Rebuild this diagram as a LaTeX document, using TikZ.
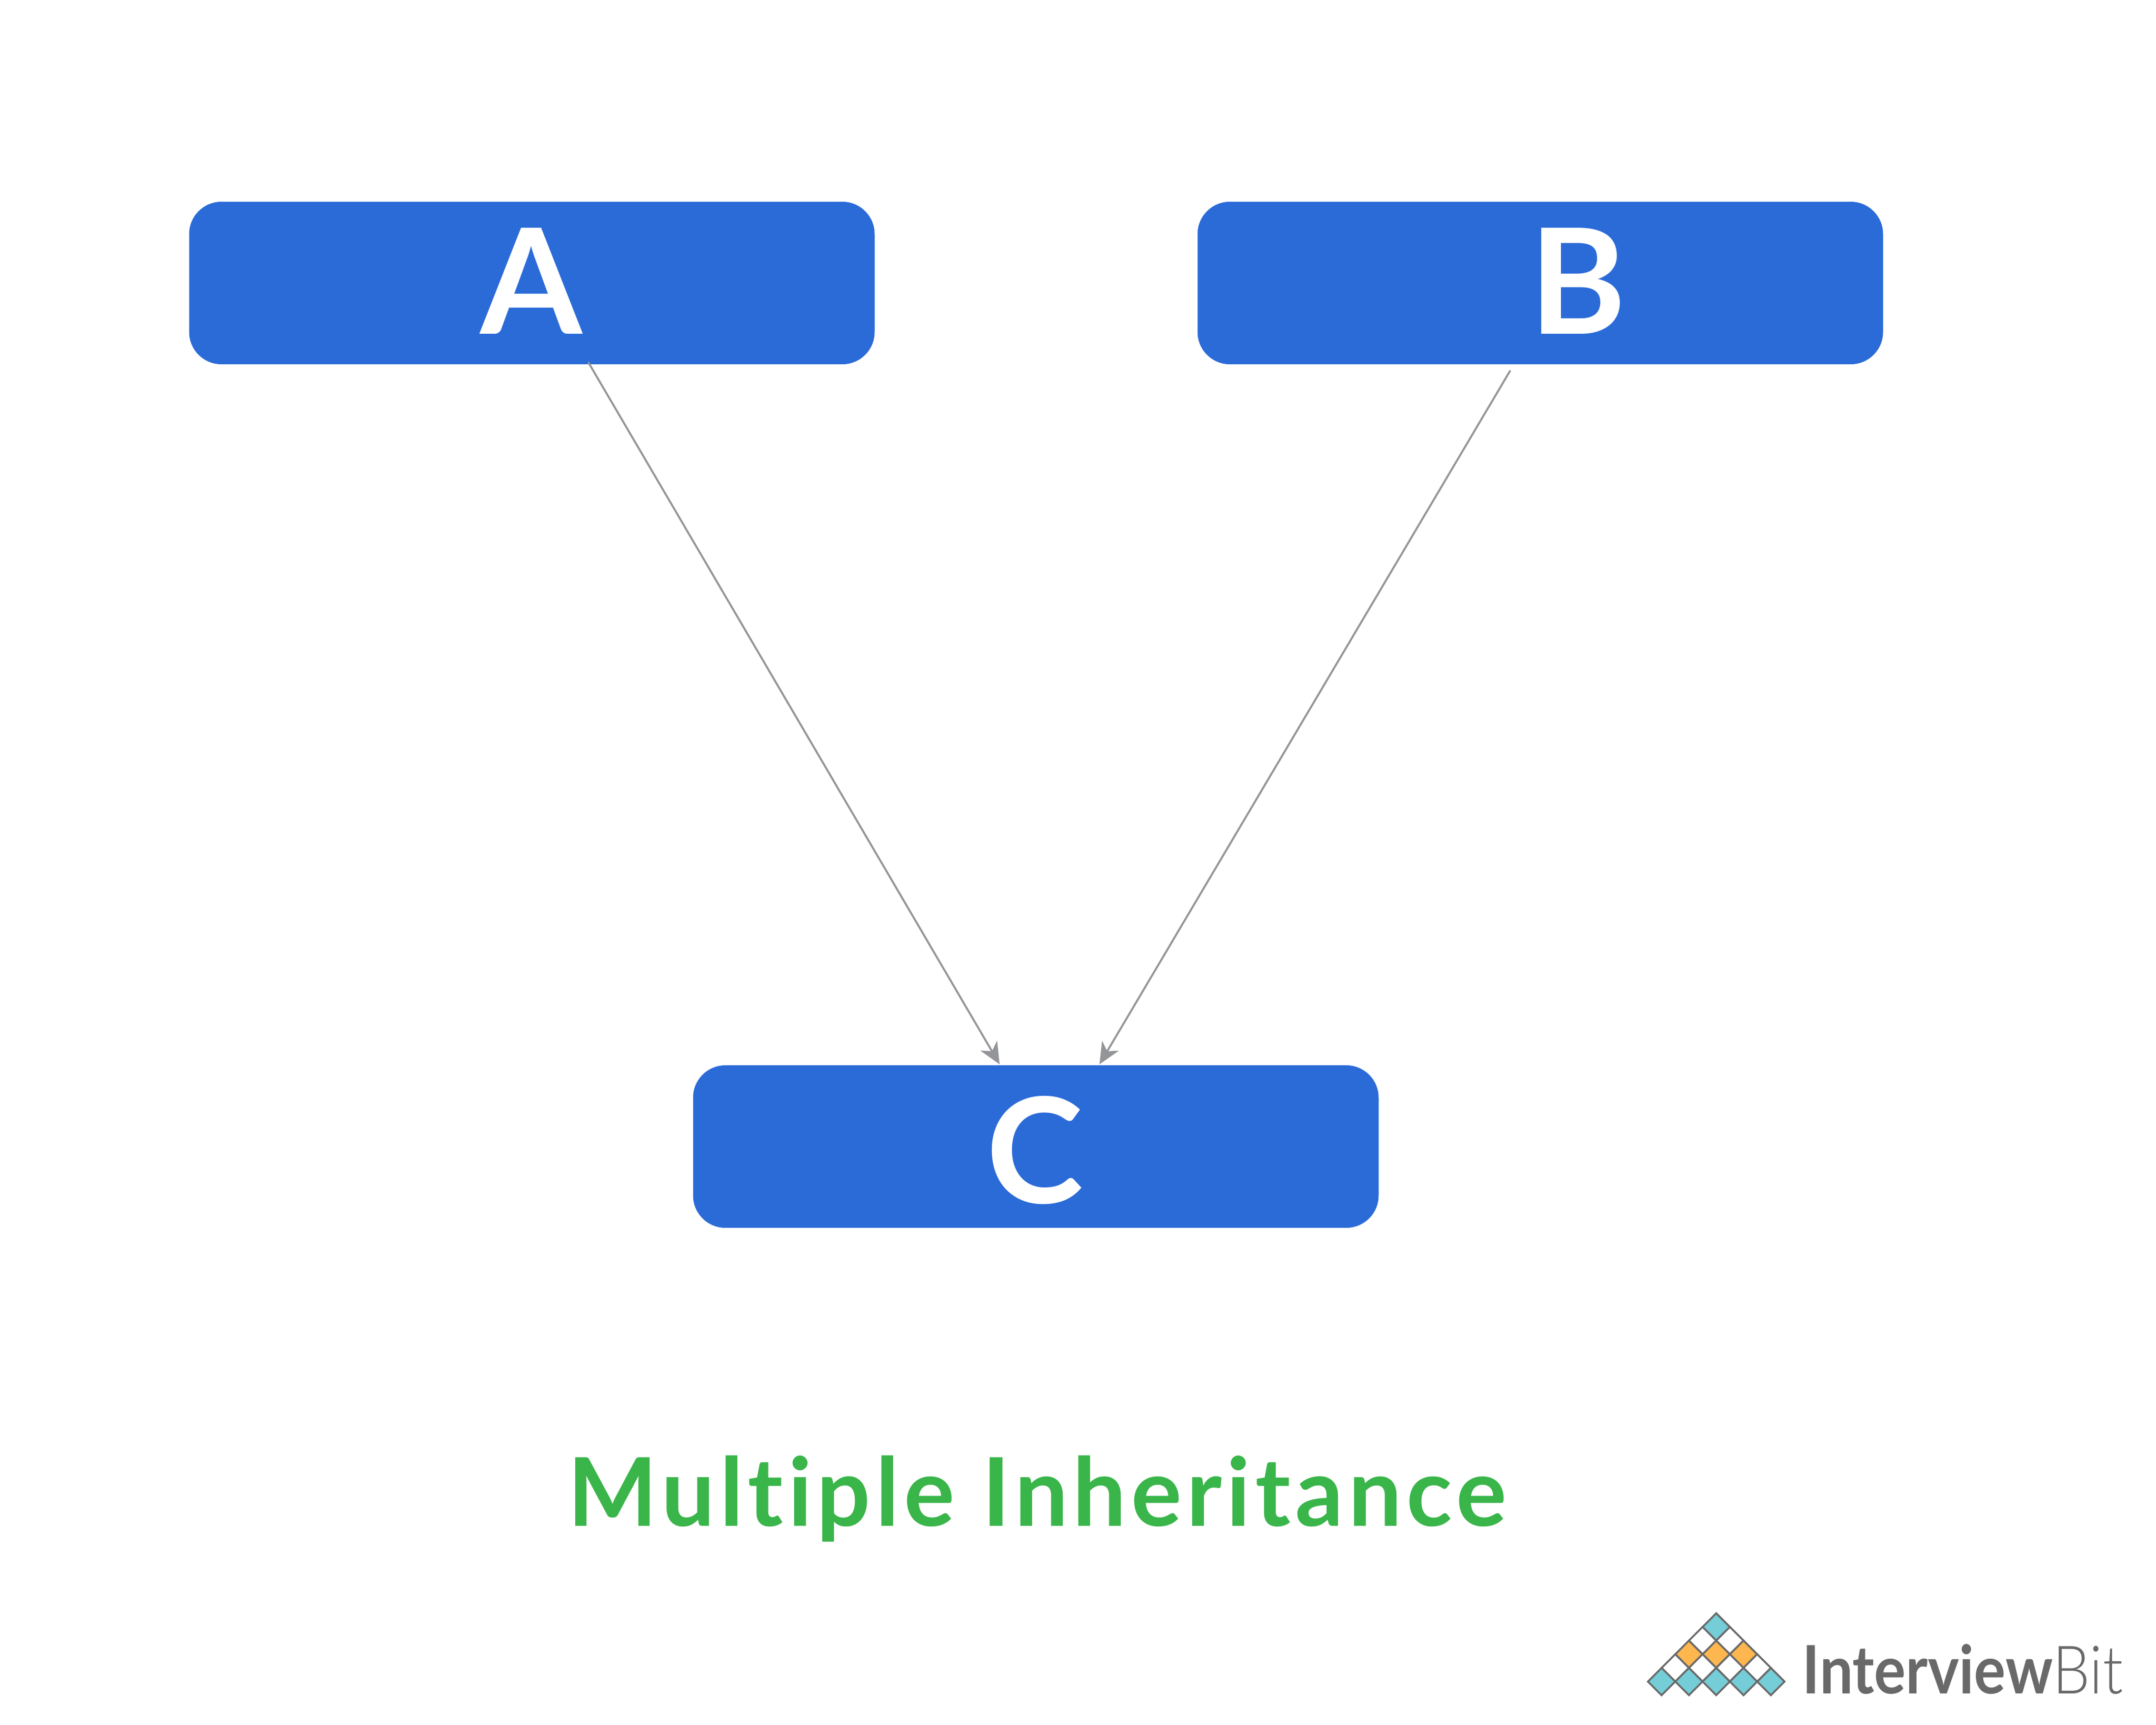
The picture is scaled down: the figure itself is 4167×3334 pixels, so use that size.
\documentclass[tikz,border=0pt]{standalone}
\usepackage{fontspec}
\setmainfont[Ligatures=CommonOff]{Lato}
\newfontfamily\titlefont[Ligatures=CommonOff,LetterSpace=5,BoldFont={Lato Bold}]{Lato}
\newfontfamily\logolight{Lato Light}
\usetikzlibrary{arrows.meta}
\definecolor{boxblue}{HTML}{2B6BD8}
\definecolor{titlegreen}{HTML}{3AB54A}
\definecolor{linegrey}{HTML}{939598}
\definecolor{logogrey}{HTML}{696969}
\definecolor{logoteal}{HTML}{74CDD7}
\definecolor{logoorange}{HTML}{FDB74E}
\tikzset{
  classbox/.style={fill=boxblue,draw=none,rounded corners=15pt,minimum width=318pt,minimum height=75.4pt,inner sep=0pt},
  classletter/.style={text=white,font=\bfseries\fontsize{68}{68}\selectfont,anchor=base,inner sep=0pt},
  inherit/.style={draw=linegrey,line width=0.9pt,-{Stealth[length=10pt,width=9pt,inset=3pt]}},
  cell/.style={draw=logogrey,line width=0.85pt,line join=miter},
}
\begin{document}
\begin{tikzpicture}[x=0.24pt,y=-0.24pt]
\useasboundingbox (0,0) rectangle (4167,3334);
\node[classbox] (a) at (1028,547) {};
\node[classbox] (b) at (2977,547) {};
\node[classbox] (c) at (2002,2216) {};
\node[classletter] (la) at (1027,645) {A};
\node[classletter] (lb) at (3050,645) {B};
\node[classletter] (lc) at (2000,2325) {C};
\coordinate (aout) at (1137,700);
\coordinate (bout) at (2919,716);
\coordinate (cina) at (1932,2057);
\coordinate (cinb) at (2125,2057);
\draw[inherit] (aout) -- (cina);
\draw[inherit] (bout) -- (cinb);
\node[text=titlegreen,font=\titlefont\bfseries\fontsize{44}{44}\selectfont,anchor=base,inner sep=0pt] (title) at (2005,2949) {Multiple Inheritance};
% logo
\foreach \r/\k/\col in {0/0/logoteal,1/-1/white,1/1/white,2/-2/logoorange,2/0/logoorange,2/2/logoorange,3/-3/white,3/-1/white,3/1/white,3/3/white,4/-4/logoteal,4/-2/logoteal,4/0/logoteal,4/2/logoteal,4/4/logoteal}{
  \draw[cell,fill=\col] ({3317+\k*26.4},{3118+\r*26.4}) -- ++(26.4,26.4) -- ++(-26.4,26.4) -- ++(-26.4,-26.4) -- cycle;
}
\node[text=logogrey,anchor=base west,inner sep=0pt,font=\fontsize{31}{31}\selectfont] (logo) at (3483,3273) {\scalebox{0.885}[1]{\textbf{Interview}{\logolight Bit}}};
\end{tikzpicture}
\end{document}
